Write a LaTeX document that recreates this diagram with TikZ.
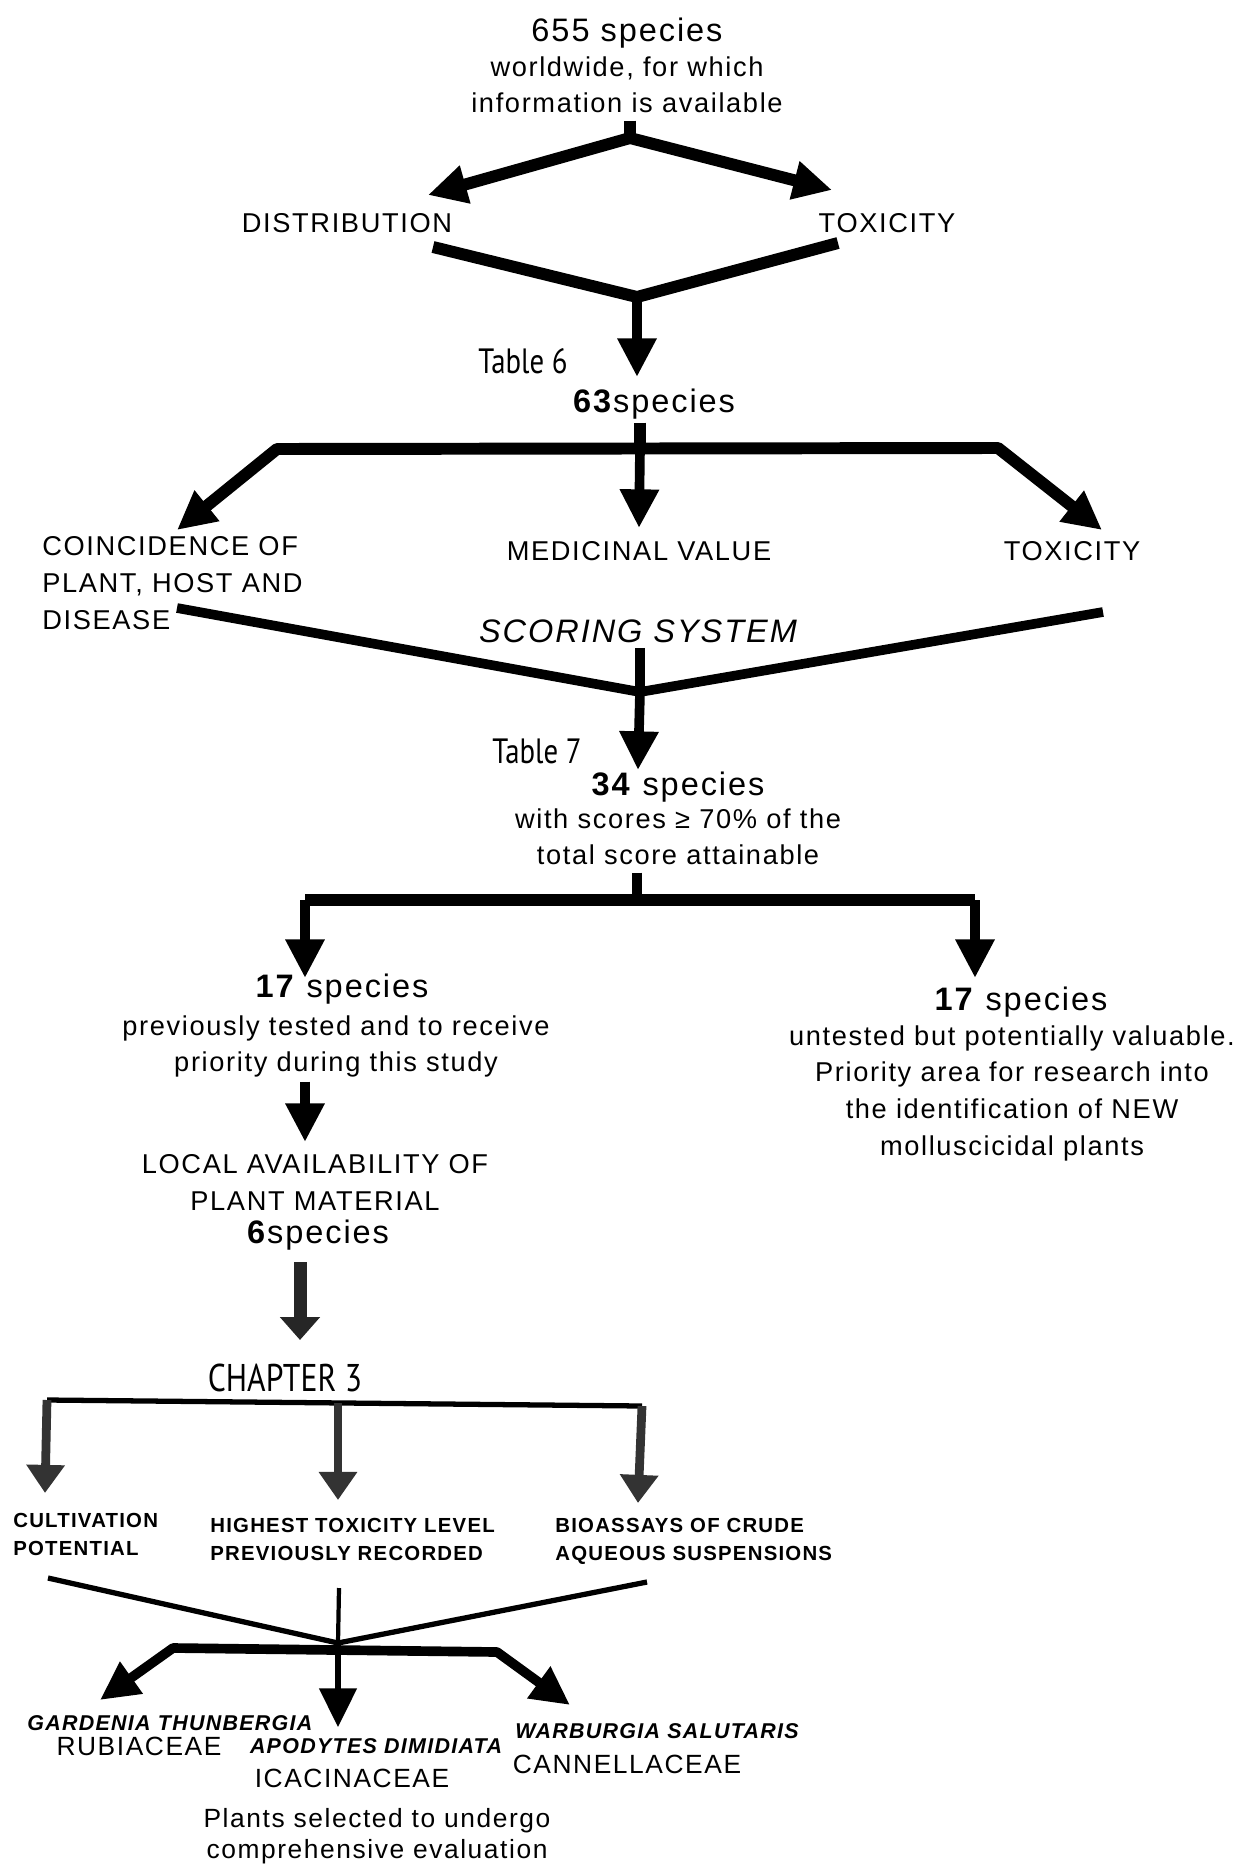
\documentclass[tikz,border=0pt]{standalone}
\usepackage{fontspec}
\setmainfont{Liberation Sans}[LetterSpace=6]
\newfontfamily\condfont{PT Sans}[FakeStretch=0.82]
\usetikzlibrary{arrows.meta,positioning}
\newcommand{\headsize}{\fontsize{18.5}{22}\selectfont}
\newcommand{\bodysize}{\fontsize{15.5}{21}\selectfont}
\newcommand{\capsize}{\fontsize{11.6}{16}\selectfont\bfseries}
\newcommand{\famsize}{\fontsize{15}{17.6}\selectfont}
\newcommand{\spcsize}{\fontsize{12.2}{16}\selectfont\bfseries\itshape}
\tikzset{
  heavy/.style={line width=6.8pt,line join=round},
  medium/.style={line width=5.5pt,line join=round},
  light/.style={line width=3pt,line join=round},
  hair/.style={line width=2.4pt},
  grey/.style={line width=5pt,draw=black!80},
  bigtip/.tip={Triangle[length=22pt,width=21pt]},
  smalltip/.tip={Triangle[length=16pt,width=21pt]},
  stubtip/.tip={Triangle[length=13pt,width=22pt]},
  txt/.style={inner sep=0pt,font=\bodysize,align=center},
  head/.style={inner sep=0pt,font=\headsize},
  captxt/.style={inner sep=0pt,font=\capsize,align=left},
  fam/.style={inner sep=0pt,font=\famsize},
  spc/.style={inner sep=0pt,font=\spcsize},
  tabl/.style={inner sep=0pt,font=\condfont\fontsize{20}{24}\selectfont}
}
\begin{document}
\begin{tikzpicture}[x=0.02cm,y=-0.02cm]
  \useasboundingbox (0,0) rectangle (1255,1869);
  % first selection
  \node[head,anchor=base] (all) at (627,42) {655 species};
  \node[txt,anchor=north] (alltxt) at (627,56) {worldwide, for which\\information is available};
  \node[txt,anchor=base] (dist) at (347,232) {DISTRIBUTION};
  \node[txt,anchor=base] (tox) at (887,232) {TOXICITY};
  \coordinate (split) at (630,138);
  \coordinate (distin) at (428,195);
  \coordinate (toxin) at (832,190);
  \draw[heavy] ([yshift=-4pt]alltxt.south -| split) -- (split);
  \draw[heavy,-bigtip] (split) -- (distin);
  \draw[heavy,-bigtip] (split) -- (toxin);
  \coordinate (distout) at (433,247);
  \coordinate (toxout) at (838,243);
  \coordinate (merge) at (637,297);
  \coordinate (n63in) at (637,377);
  \draw[heavy] (distout) -- (merge) -- (toxout);
  \draw[medium,-bigtip] (merge) -- (n63in);
  \node[tabl,anchor=base east] (tab6) at (568,373) {Table 6};
  \node[head,anchor=base] (n63) at (654,412) {\textbf{63}species};

  % scoring system
  \coordinate (fork) at (640,448);
  \coordinate (forkL) at (277,449);
  \coordinate (forkR) at (998,448);
  \coordinate (coinin) at (177,530);
  \coordinate (medin) at (639,528);
  \coordinate (toxbin) at (1102,530);
  \draw[heavy] ([yshift=-2pt]n63.south -| fork) -- (fork);
  \draw[heavy,bigtip-bigtip] (coinin) -- (forkL) -- (forkR) -- (toxbin);
  \draw[medium,-bigtip] (fork) -- (medin);
  \node[txt,anchor=north west,align=left] (coin) at (42,536) {COINCIDENCE OF\\PLANT, HOST AND\\DISEASE};
  \node[txt,anchor=base] (med) at (639,560) {MEDICINAL VALUE};
  \node[txt,anchor=base] (toxb) at (1072,560) {TOXICITY};
  \node[head,font=\headsize\itshape,anchor=base] (score) at (638,642) {SCORING SYSTEM};
  \coordinate (coinout) at (177,608);
  \coordinate (toxbout) at (1103,612);
  \coordinate (pool) at (640,692);
  \coordinate (n34in) at (638,770);
  \draw[medium] (coinout) -- (pool) -- (toxbout);
  \draw[medium] ([yshift=-3pt]score.south -| pool) -- (pool);
  \draw[medium,-bigtip] (pool) -- (n34in);
  \node[tabl,anchor=base east] (tab7) at (582,763) {Table 7};
  \node[head,anchor=base] (n34) at (678,795) {\textbf{34} species};
  \node[txt,anchor=north] (n34txt) at (678,808) {with scores ≥ 70\% of the\\total score attainable};

  % tested / untested
  \coordinate (split2) at (637,900);
  \coordinate (split2L) at (305,900);
  \coordinate (split2R) at (975,900);
  \coordinate (testin) at (305,978);
  \coordinate (untestin) at (975,978);
  \draw[medium] ([yshift=-4pt]n34txt.south -| split2) -- (split2);
  \draw[heavy] (split2L) -- (split2R);
  \draw[medium,-bigtip] (split2L) -- (testin);
  \draw[medium,-bigtip] (split2R) -- (untestin);
  \node[head,anchor=base] (n17a) at (342,997) {\textbf{17} species};
  \node[txt,anchor=north] (n17atxt) at (336,1015) {previously tested and to receive\\priority during this study};
  \node[head,anchor=base] (n17b) at (1021,1010) {\textbf{17} species};
  \node[txt,anchor=north] (n17btxt) at (1012,1025) {untested but potentially valuable.\\Priority area for research into\\the identification of NEW\\molluscicidal plants};
  \coordinate (localin) at (305,1142);
  \draw[medium,-bigtip] ([yshift=-2pt]n17atxt.south -| localin) -- (localin);
  \node[txt,anchor=north] (local) at (315,1154) {LOCAL AVAILABILITY OF\\PLANT MATERIAL};
  \node[head,anchor=base] (n6) at (318,1243) {\textbf{6}species};
  \coordinate (chapin) at (300,1340);
  \draw[line width=7.4pt,draw=black!85,-stubtip] ([yshift=-7pt]n6.south -| chapin) -- (chapin);

  % chapter 3
  \node[tabl,font=\condfont\fontsize{22}{26}\selectfont,anchor=base] (chap) at (285,1391) {CHAPTER 3};
  \coordinate (cL) at (47,1400);
  \coordinate (cM) at (338,1403);
  \coordinate (cR) at (642,1406);
  \coordinate (cultin) at (45,1493);
  \coordinate (highin) at (338,1500);
  \coordinate (bioin) at (638,1503);
  \draw[light] (cL) -- (cR);
  \draw[grey,-smalltip] (cL) -- (cultin);
  \draw[grey,-smalltip] (cM) -- (highin);
  \draw[grey,-smalltip] (cR) -- (bioin);
  \node[captxt,anchor=north west] (cult) at (13,1513) {CULTIVATION\\POTENTIAL};
  \node[captxt,anchor=north west] (high) at (210,1518) {HIGHEST TOXICITY LEVEL\\PREVIOUSLY RECORDED};
  \node[captxt,anchor=north west] (bio) at (555,1518) {BIOASSAYS OF CRUDE\\AQUEOUS SUSPENSIONS};
  \coordinate (cultout) at (48,1578);
  \coordinate (bioout) at (647,1582);
  \coordinate (highout) at (339,1588);
  \coordinate (sel) at (338,1643);
  \draw[light] (cultout) -- (sel) -- (bioout);
  \draw[hair] (highout) -- (sel);

  % selected plants
  \coordinate (selL) at (173,1648);
  \coordinate (selR) at (497,1652);
  \coordinate (gardin) at (100,1700);
  \coordinate (apodin) at (338,1727);
  \coordinate (warbin) at (570,1705);
  \draw[medium,bigtip-bigtip] (gardin) -- (selL) -- (selR) -- (warbin);
  \draw[line width=3pt,-bigtip] (sel) -- (apodin);
  \node[spc,anchor=base west] (gard) at (27,1730) {GARDENIA THUNBERGIA};
  \node[fam,anchor=base] (rubi) at (139,1755) {RUBIACEAE};
  \node[spc,anchor=base] (apod) at (376,1753) {APODYTES DIMIDIATA};
  \node[fam,anchor=base] (icac) at (352,1787) {ICACINACEAE};
  \node[spc,anchor=base] (warb) at (657,1738) {WARBURGIA SALUTARIS};
  \node[fam,anchor=base] (cann) at (627,1773) {CANNELLACEAE};
  \node[fam,align=center,anchor=north] (seltxt) at (377,1808) {Plants selected to undergo\\comprehensive evaluation};
\end{tikzpicture}
\end{document}
